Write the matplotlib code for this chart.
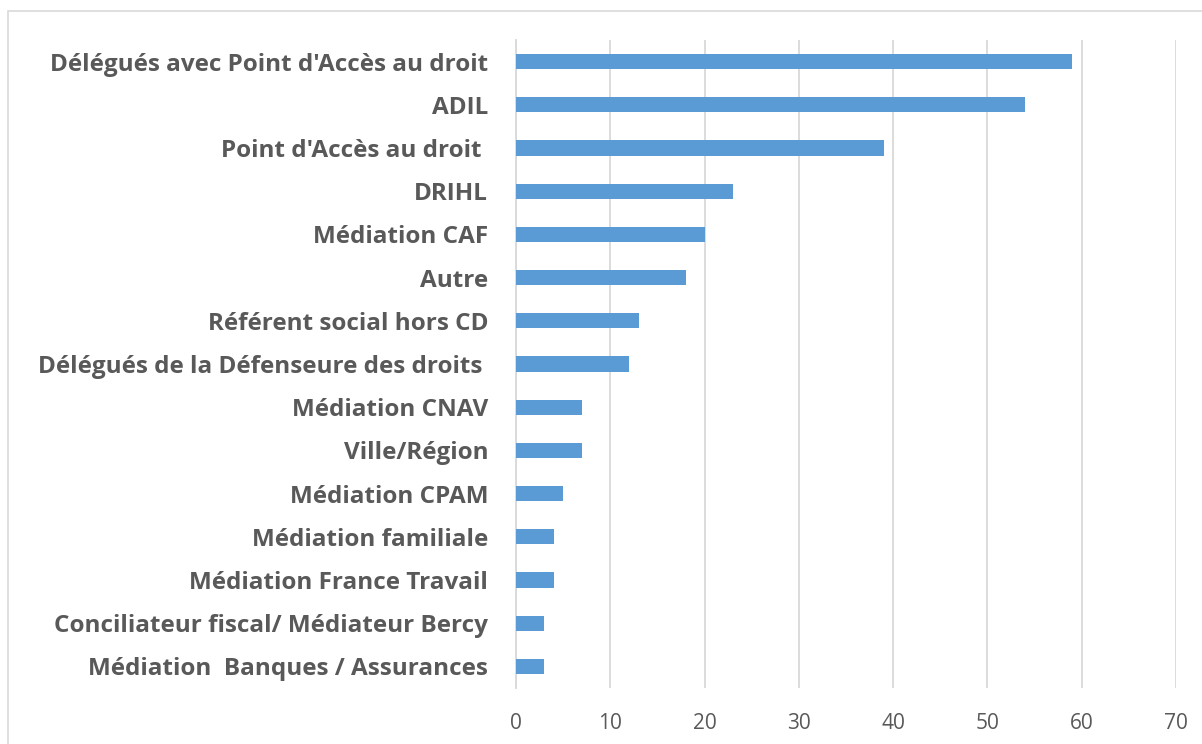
import matplotlib

matplotlib.use("Agg")
import matplotlib.pyplot as plt
from matplotlib.patches import Rectangle

categories = [
    "Délégués avec Point d'Accès au droit",
    "ADIL",
    "Point d'Accès au droit ",
    "DRIHL",
    "Médiation CAF",
    "Autre",
    "Référent social hors CD",
    "Délégués de la Défenseure des droits ",
    "Médiation CNAV",
    "Ville/Région",
    "Médiation CPAM",
    "Médiation familiale",
    "Médiation France Travail",
    "Conciliateur fiscal/ Médiateur Bercy",
    "Médiation  Banques / Assurances",
]
values = [59, 54, 39, 23, 20, 18, 13, 12, 7, 7, 5, 4, 4, 3, 3]
xticks = [0, 10, 20, 30, 40, 50, 60, 70]

BAR_C = "#5B9BD5"
TXT_C = "#595959"
GRID_C = "#D9D9D9"

fig = plt.figure(figsize=(12.02, 7.44), dpi=100)
fig.patches.append(Rectangle((8 / 1202, -0.01), 1.02, 1 - 11 / 744 + 0.01,
                             transform=fig.transFigure, fill=False,
                             edgecolor=GRID_C, linewidth=1.2))
ax = fig.add_axes([516 / 1202, 1 - 688 / 744, 660 / 1202, 648 / 744])

y = list(range(len(categories)))
ax.barh(y, values, height=0.35, color=BAR_C, zorder=3)
ax.set_ylim(len(categories) - 0.5, -0.5)
ax.set_xlim(0, 70)
ax.set_xticks(xticks)
ax.set_yticks(y)
ax.set_yticklabels(categories, fontfamily="Open Sans", fontweight="bold",
                   fontsize=17.5, color=TXT_C)
for lbl in ax.get_xticklabels():
    lbl.set_fontfamily("Open Sans")
    lbl.set_fontsize(15)
    lbl.set_color(TXT_C)
ax.tick_params(axis="both", length=0)
ax.tick_params(axis="y", pad=20)
ax.tick_params(axis="x", pad=18)
ax.grid(axis="x", color=GRID_C, linewidth=1.3, zorder=0)
for s in ("top", "right", "bottom"):
    ax.spines[s].set_visible(False)
ax.spines["left"].set_color(GRID_C)
ax.spines["left"].set_linewidth(1.3)

fig.savefig("out.png", dpi=100)
